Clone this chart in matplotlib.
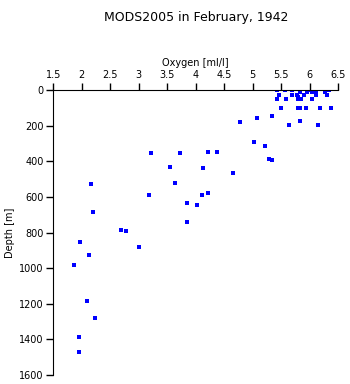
import matplotlib
matplotlib.use("Agg")
import matplotlib.pyplot as plt

# oxygen [ml/l] and depth [m]
oxygen = [5.43, 5.46, 5.43, 5.56, 5.59, 5.50, 5.685, 5.69, 5.78, 5.80, 5.83, 5.80, 5.85,
          5.80, 5.83, 5.82, 5.64, 5.89, 5.94, 5.955, 6.025, 6.04, 6.04, 6.10, 6.105,
          6.18, 6.15, 6.27, 6.295, 6.34, 6.38,
          5.34, 5.075, 4.78, 5.02, 5.215, 5.29, 5.34,
          3.21, 3.72, 4.21, 4.37, 3.545, 4.13, 4.65, 2.157, 3.64, 3.18, 4.11, 4.21,
          3.845, 4.02, 2.19, 3.845, 2.69, 2.77, 1.963, 2.13, 3.01, 1.86, 2.09, 2.24,
          1.96, 1.945]
depth = [2, 30, 52, 2, 52, 103, 2, 30, 30, 37, 13, 52, 52,
         103, 103, 176, 195, 30, 103, 13, 2, 13, 52, 30, 13,
         103, 198, 13, 30, 2, 101,
         148, 159, 178, 294, 313, 389, 395,
         352, 355, 346, 350, 434, 440, 466, 526, 524, 591, 591, 580,
         636, 648, 685, 743, 788, 793, 855, 926, 883, 985, 1186, 1278,
         1389, 1473]

xticks = [1.5, 2, 2.5, 3, 3.5, 4, 4.5, 5, 5.5, 6, 6.5]
yticks = [0, 200, 400, 600, 800, 1000, 1200, 1400, 1600]

plt.rcParams['font.family'] = ['DejaVu Sans']

fig = plt.figure(figsize=(3.5, 3.84), dpi=100)
ax = fig.add_axes([0.152, 0.0234, 0.8146, 0.7422])

ax.scatter(oxygen, depth, marker='s', s=6, color='#0000ff', linewidths=0)

ax.set_xlim(1.5, 6.5)
ax.set_ylim(1600, 0)
ax.set_xticks(xticks)
ax.set_xticklabels(['1.5', '2', '2.5', '3', '3.5', '4', '4.5', '5', '5.5', '6', '6.5'])
ax.set_yticks(yticks)

ax.xaxis.tick_top()
ax.xaxis.set_label_position('top')
ax.spines['right'].set_visible(False)
ax.spines['bottom'].set_visible(False)
ax.tick_params(direction='out', length=5, width=1, labelsize=7, pad=2)

ax.set_xlabel('Oxygen [ml/l]', fontsize=7, labelpad=3)
ax.set_ylabel('Depth [m]', fontsize=7, labelpad=3)
ax.set_title('MODS2005 in February, 1942', fontsize=9, pad=50)

fig.savefig('out.png', dpi=100)
